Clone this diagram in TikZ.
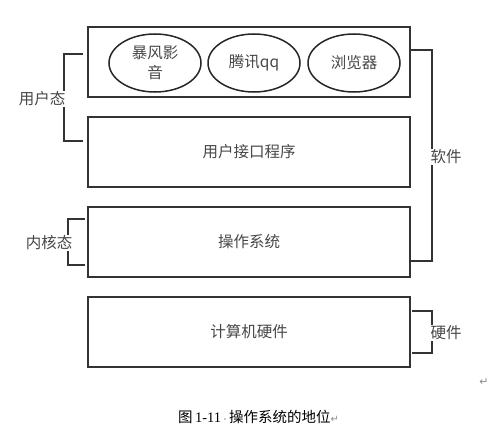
\documentclass[tikz,border=0pt]{standalone}
\usepackage{fontspec}
\usetikzlibrary{shapes.geometric}
\newfontfamily\cjk{Noto Sans CJK SC}
\newfontfamily\serif{Liberation Serif}
\newfontfamily\dv{DejaVu Sans}
\begin{document}
\begin{tikzpicture}[x=1pt,y=-1pt,
  layerbox/.style={draw=black!80,line width=1.8pt,minimum width=322pt,minimum height=70pt,inner sep=0pt,font=\cjk\fontsize{15.5}{18}\selectfont,text=black!72},
  app/.style={draw=black!85,line width=1.5pt,ellipse,minimum width=92pt,minimum height=58pt,inner sep=0pt,align=center,font=\cjk\fontsize{15.5}{20}\selectfont,text=black!72},
  brk/.style={draw=black!80,line width=1.8pt},
  lbl/.style={font=\cjk\fontsize{15.5}{18}\selectfont,text=black!72,inner sep=1pt,fill=white},
  retmark/.style={text=black!45,font=\dv\fontsize{11}{12}\selectfont,inner sep=0pt}
]
\useasboundingbox (0,0) rectangle (490,436);
\node[layerbox] (apps) at (249,62) {};
\node[layerbox] (ui) at (249,152) {用户接口程序};
\node[layerbox] (os) at (249,242) {操作系统};
\node[layerbox] (hw) at (249,332) {计算机硬件};
\node[app] (bf) at (155,63) {暴风影\\音};
\node[app] (qq) at (254,63) {腾讯qq};
\node[app] (br) at (354,63) {浏览器};
% user mode bracket
\coordinate (u1) at (83,54);
\coordinate (u2) at (64,54);
\coordinate (u3) at (64,141);
\coordinate (u4) at (83,141);
\draw[brk] (u1) -- (u2) -- (u3) -- (u4);
\node[lbl] (ulbl) at (42,99) {用户态};
% kernel mode bracket
\coordinate (k1) at (85,219);
\coordinate (k2) at (68,219);
\coordinate (k3) at (68,265);
\coordinate (k4) at (85,265);
\draw[brk] (k1) -- (k2) -- (k3) -- (k4);
\node[lbl] (klbl) at (49,243) {内核态};
% software bracket
\coordinate (s1) at (410,50);
\coordinate (s2) at (432,50);
\coordinate (s3) at (432,261);
\coordinate (s4) at (410,261);
\draw[brk] (s1) -- (s2) -- (s3) -- (s4);
\node[lbl] (slbl) at (446,157) {软件};
% hardware bracket
\coordinate (h1) at (412,311);
\coordinate (h2) at (432,311);
\coordinate (h3) at (432,353);
\coordinate (h4) at (412,353);
\draw[brk] (h1) -- (h2) -- (h3) -- (h4);
\node[lbl] (hlbl) at (446,333) {硬件};
% caption
\node[retmark] (ret) at (484,382) {↵};
\node[inner sep=0pt,anchor=west] (cap) at (178,417) {\cjk\fontsize{14.5}{17}\selectfont 图\,{\serif 1-11}{\color{black!40}\fontsize{8}{9}\selectfont·}操作系统的地位{\dv\color{black!45}\fontsize{10}{11}\selectfont ↵}};
\end{tikzpicture}
\end{document}
